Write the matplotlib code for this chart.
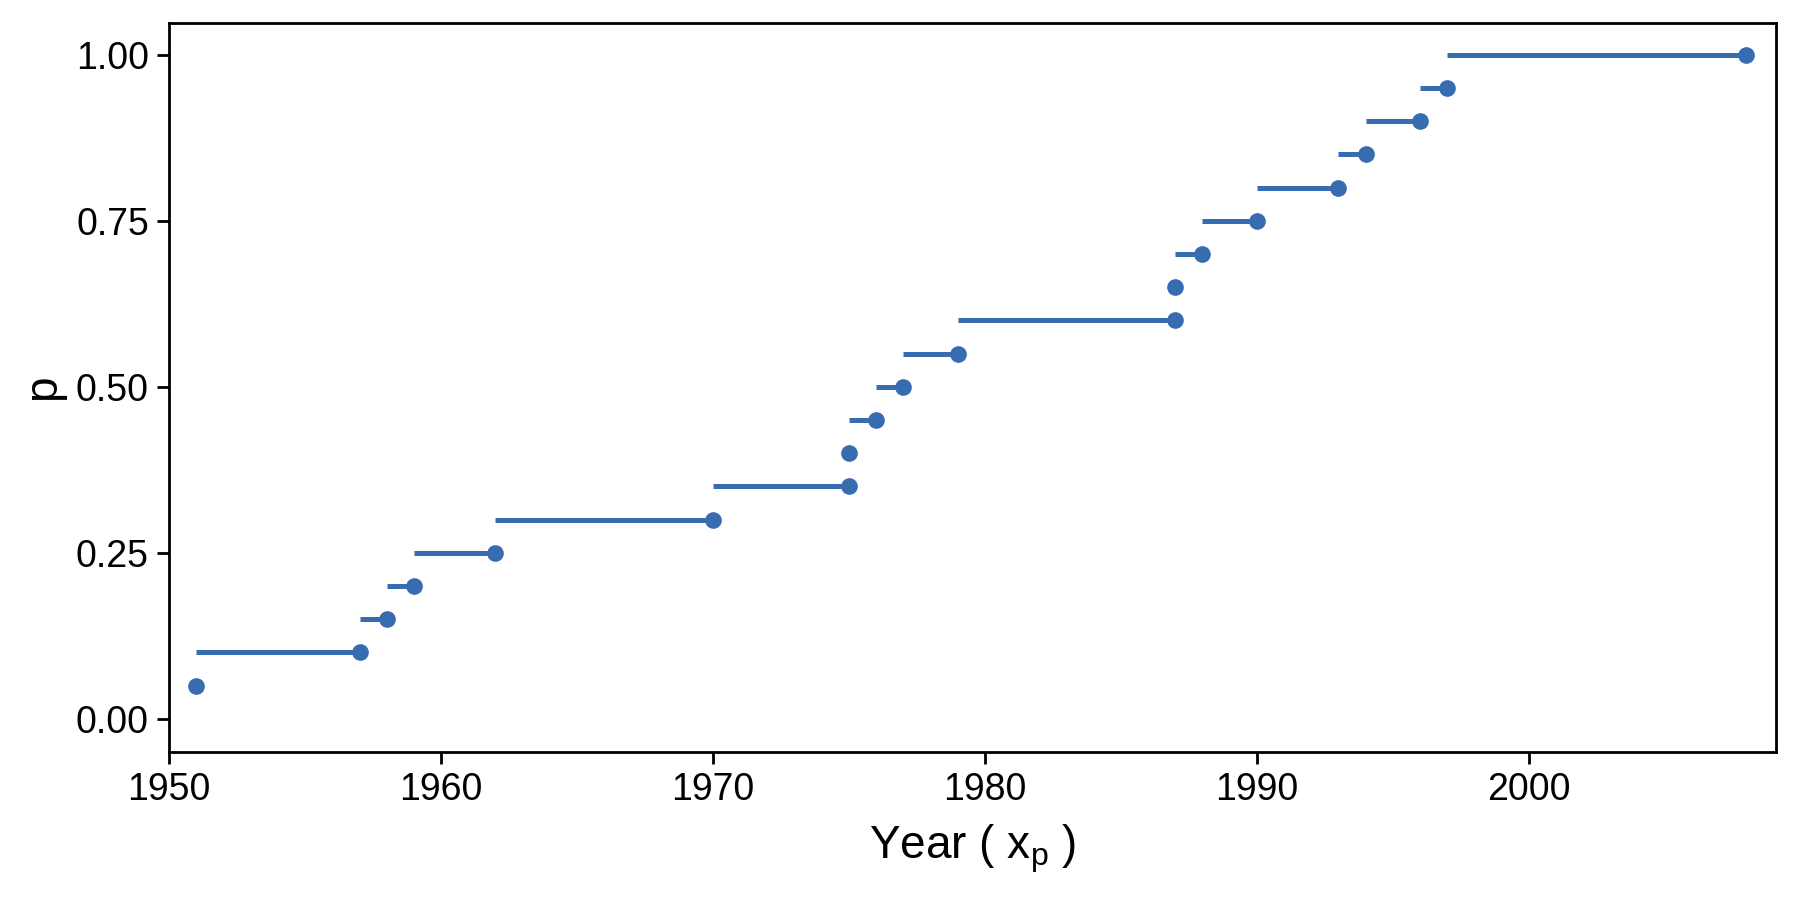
import matplotlib
matplotlib.use("Agg")
import matplotlib.pyplot as plt

plt.rcParams['font.family'] = ['Liberation Sans', 'DejaVu Sans']
plt.rcParams['mathtext.default'] = 'regular'

# empirical quantiles: probability level and year reached
p = [0.05, 0.10, 0.15, 0.20, 0.25, 0.30, 0.35, 0.40, 0.45, 0.50,
     0.55, 0.60, 0.65, 0.70, 0.75, 0.80, 0.85, 0.90, 0.95, 1.00]
years = [1951, 1957, 1958, 1959, 1962, 1970, 1975, 1975, 1976, 1977,
         1979, 1987, 1987, 1988, 1990, 1993, 1994, 1996, 1997, 2008]

col = "#386cb0"

fig = plt.figure(figsize=(9, 4.5), dpi=200)
ax = fig.add_axes([0.094, 0.1644, 0.8927, 0.81])

# horizontal step from the previous year up to this one
ax.hlines(p[1:], years[:-1], years[1:], color=col, lw=1.8)
ax.plot(years, p, 'o', color=col, ms=6, mec='none')

ax.set_xlim(1950, 2009.1)
ax.set_ylim(-0.05, 1.048)
ax.set_xticks([1950, 1960, 1970, 1980, 1990, 2000])
ax.set_yticks([0, 0.25, 0.5, 0.75, 1.0])
ax.set_yticklabels(["0.00", "0.25", "0.50", "0.75", "1.00"])
ax.tick_params(labelsize=13.5, length=4.3, width=1, direction='out', pad=3)
for s in ax.spines.values():
    s.set_linewidth(1)

ax.set_xlabel(r"Year ( $x_p$ )", fontsize=16.5, labelpad=5)
ax.set_ylabel("p", fontsize=16.5, labelpad=4)

fig.savefig("out.png", dpi=200)
